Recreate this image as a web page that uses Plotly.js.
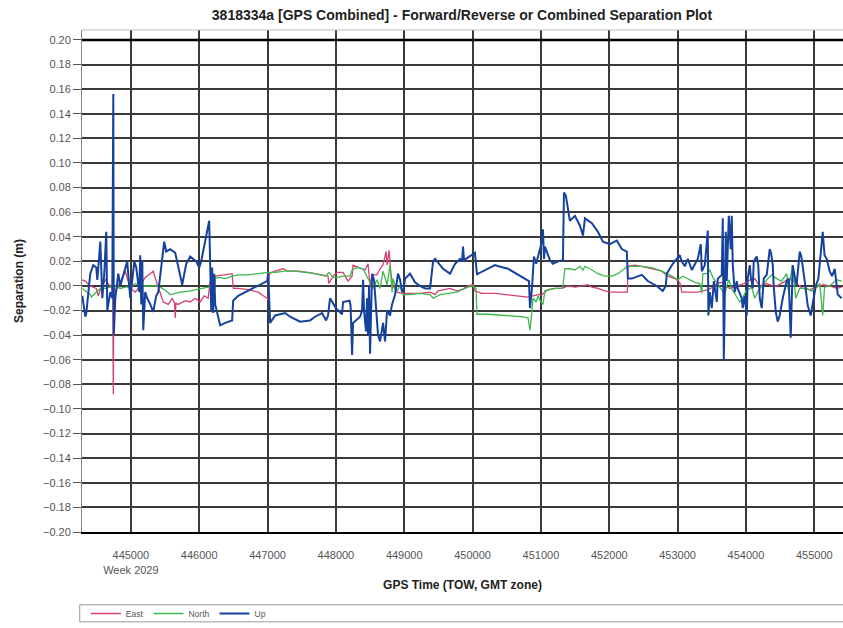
<!DOCTYPE html>
<html>
<head>
<meta charset="utf-8">
<script src="https://cdn.plot.ly/plotly-3.0.1.min.js"></script>
<style>html,body{margin:0;padding:0;background:#fff;overflow:hidden}#chart{width:843px;height:628px}</style>
</head>
<body>
<div id="chart"></div>
<script>
// GPS time of week (s) and separations (m)
const upTime = [444290,444333,444348,444406,444450,444494,444509,444553,444582,444611,444640,444655,444699,444728,444743,444750,444772,444816,444845,444918,444947,444991,445050,445079,445123,445137,445152,445167,445181,445210,445240,445284,445327,445371,445401,445488,445517,445576,445649,445751,445810,445868,445956,446000,446029,446146,446161,446176,446190,446205,446220,446234,446307,446380,446482,446497,446570,446717,446863,446994,447009,447038,447111,447257,447330,447476,447622,447695,447797,447856,447885,447914,448000,448090,448105,448200,448215,448237,448251,448354,448383,448398,448412,448441,448456,448471,448485,448500,448529,448558,448617,448646,448690,448719,448749,448792,448822,448866,448909,448939,448968,448990,449012,449085,449158,449231,449305,449378,449422,449451,449568,449670,449743,449816,449846,449860,449875,449933,450035,450065,450080,450328,450380,450518,450665,450796,450825,450840,450869,450898,450930,450986,451015,451030,451045,451059,451132,451176,451249,451322,451337,451366,451395,451424,451498,451571,451615,451644,451746,451834,451907,452009,452111,452184,452257,452272,452330,452476,452564,452695,452783,452827,452842,452929,453032,453060,453105,453149,453208,453252,453295,453339,453354,453398,453442,453450,453471,453500,453530,453573,453588,453646,453661,453676,453705,453719,453749,453778,453792,453807,453836,453866,453880,453939,453953,453980,454012,454026,454056,454070,454099,454114,454158,454180,454202,454231,454260,454304,454348,454370,454392,454406,454436,454465,454494,454538,454570,454596,454625,454655,454684,454710,454740,454787,454810,454860,454904,454948,454990,455021,455060,455094,455123,455150,455182,455225,455260,455299,455343,455401];
const upValues = [-0.008,-0.025,-0.022,0.010,0.017,0.015,0.005,0.036,-0.010,0.010,0.044,-0.020,-0.005,-0.010,0.156,-0.040,-0.010,0.010,0.000,0.015,0.020,-0.010,0.020,0.015,-0.005,0.025,-0.015,0.020,-0.036,-0.005,-0.010,-0.015,-0.021,-0.008,-0.005,0.036,0.028,0.030,0.027,0.001,0.018,0.024,0.020,0.015,0.020,0.053,0.000,-0.020,0.015,-0.022,0.010,-0.015,-0.032,-0.030,-0.028,-0.012,-0.008,-0.004,0.000,0.004,0.010,-0.030,-0.024,-0.022,-0.025,-0.029,-0.028,-0.025,-0.022,-0.028,-0.024,-0.010,-0.018,-0.023,-0.013,-0.012,-0.016,-0.056,-0.030,-0.025,-0.020,0.005,-0.020,-0.037,-0.010,-0.040,0.000,-0.055,0.010,0.005,-0.040,-0.045,-0.030,-0.045,-0.020,-0.024,-0.015,-0.007,0.010,0.005,-0.005,-0.003,0.006,0.010,0.003,0.000,-0.002,-0.002,0.020,0.022,0.014,0.010,0.018,0.022,0.020,0.032,0.021,0.023,0.027,0.009,0.010,0.017,0.016,0.014,0.009,0.005,0.004,-0.018,-0.002,0.024,0.018,0.030,0.036,0.046,0.022,0.032,0.021,0.018,0.020,0.021,0.076,0.073,0.062,0.053,0.057,0.049,0.041,0.055,0.051,0.044,0.036,0.034,0.037,0.030,0.028,0.006,0.006,0.009,0.004,0.000,-0.004,0.000,0.010,0.018,0.025,0.020,0.016,0.022,0.013,0.018,0.022,0.034,0.012,0.017,0.045,-0.024,-0.005,-0.018,0.004,-0.013,0.006,0.009,0.055,-0.060,0.044,0.004,0.057,0.030,0.057,0.017,-0.005,0.004,-0.002,-0.010,-0.018,-0.008,-0.024,0.006,0.017,0.008,-0.002,0.020,0.024,0.017,-0.010,-0.018,0.006,0.009,0.030,0.026,0.017,0.000,-0.021,-0.029,-0.024,-0.010,-0.002,0.004,0.006,-0.042,0.017,0.008,0.000,0.028,0.024,0.004,-0.016,-0.024,-0.010,0.000,0.006,0.030,0.044,0.025,0.022,0.012,0.008,0.014,-0.007,-0.010];

const eastTime = [444290,444333,444406,444494,444523,444553,444626,444699,444735,444743,444750,444772,444845,444918,444991,445064,445137,445210,445284,445327,445371,445430,445474,445547,445605,445640,445649,445660,445693,445795,445868,445941,446014,446073,446131,446161,446205,446234,446351,446424,446482,446497,446570,446717,446863,446936,446994,447009,447024,447111,447228,447301,447447,447593,447797,447885,447895,447929,447958,448017,448105,448178,448237,448251,448354,448427,448471,448500,448530,448602,448646,448690,448734,448749,448778,448807,448836,448895,448968,449085,449231,449378,449451,449495,449568,449670,449772,449846,449933,450006,450035,450138,450328,450518,450723,450811,450884,450957,451015,451103,451205,451307,451395,451498,451600,451688,451746,451834,451936,452038,452126,452228,452265,452272,452374,452476,452622,452768,452856,452959,453032,453061,453149,453295,453369,453442,453515,453571,453650,453700,453763,453850,453939,454056,454129,454202,454300,454392,454450,454550,454640,454720,454830,454930,455036,455130,455225,455328,455401];
const eastValues = [0.005,0.004,0.000,-0.002,-0.008,-0.003,0.005,0.000,-0.003,-0.088,0.000,-0.005,0.004,0.012,-0.002,-0.005,0.000,0.007,0.010,0.012,0.004,-0.005,-0.013,-0.015,-0.010,-0.014,-0.026,-0.014,-0.015,-0.012,-0.013,-0.010,-0.013,-0.008,-0.010,0.004,-0.020,0.008,0.009,0.010,0.010,-0.002,-0.002,-0.003,-0.005,-0.008,-0.010,-0.012,0.010,0.012,0.014,0.012,0.012,0.011,0.009,0.008,0.002,0.005,0.008,0.011,0.011,0.004,0.008,0.017,0.015,0.013,0.018,0.000,0.009,0.009,0.014,0.017,0.028,0.017,0.029,0.009,0.000,-0.005,-0.006,-0.006,-0.006,-0.005,-0.007,-0.004,-0.003,-0.002,-0.004,-0.003,0.000,0.001,-0.004,-0.006,-0.006,-0.007,-0.008,-0.009,-0.008,-0.007,-0.007,-0.003,-0.002,-0.002,0.000,-0.001,0.000,0.001,-0.001,-0.002,-0.004,-0.005,-0.005,-0.005,-0.005,0.016,0.017,0.016,0.014,0.012,0.008,0.006,0.003,-0.005,-0.005,-0.005,-0.004,-0.003,-0.001,0.002,0.003,0.000,-0.002,0.000,0.001,0.005,0.006,0.000,0.002,0.000,0.000,0.003,0.006,0.003,-0.002,-0.003,-0.001,0.001,0.000,-0.002,-0.001];

const northTime = [444290,444333,444406,444420,444494,444553,444626,444699,444772,444845,444918,444991,445064,445137,445210,445284,445371,445430,445517,445576,445649,445722,445868,446014,446131,446161,446205,446234,446278,446380,446482,446570,446717,446863,447009,447111,447257,447403,447549,447695,447841,447900,447958,448017,448105,448207,448237,448310,448398,448456,448544,448602,448646,448690,448749,448792,448822,448836,448895,448939,448983,449085,449231,449378,449422,449524,449626,449772,449846,449933,450006,450050,450065,450226,450475,450723,450811,450840,450869,450884,450930,450957,450990,451030,451059,451132,451205,451307,451322,451351,451424,451498,451571,451615,451644,451746,451834,451936,452038,452126,452228,452272,452374,452476,452622,452768,452915,453003,453076,453149,453252,453325,453354,453369,453427,453471,453515,453617,453690,453720,453750,453790,453860,453909,453953,454000,454085,454129,454180,454304,454377,454450,454520,454596,454620,454684,454728,454787,454889,454960,455036,455080,455123,455150,455225,455328,455401];
const northValues = [-0.002,-0.004,-0.007,-0.009,-0.005,-0.002,-0.002,-0.001,0.000,-0.002,-0.001,-0.001,0.002,0.000,0.000,0.000,0.000,-0.001,-0.004,-0.007,-0.006,-0.005,-0.004,-0.002,-0.001,-0.001,-0.010,0.006,0.007,0.006,0.008,0.009,0.009,0.010,0.011,0.011,0.012,0.012,0.011,0.010,0.008,0.011,0.007,0.007,0.008,0.008,0.013,0.015,0.014,0.008,-0.002,0.005,-0.002,0.012,0.001,0.017,-0.005,0.006,-0.004,0.000,-0.007,-0.007,-0.006,-0.007,-0.010,-0.007,-0.006,-0.005,-0.003,-0.001,0.000,-0.002,-0.023,-0.023,-0.024,-0.025,-0.026,-0.036,-0.020,-0.010,-0.013,-0.008,-0.012,-0.015,-0.004,-0.003,-0.002,-0.002,0.000,0.014,0.014,0.013,0.016,0.013,0.016,0.013,0.010,0.008,0.008,0.010,0.014,0.016,0.016,0.016,0.015,0.012,0.008,0.005,0.008,0.006,0.003,0.002,-0.006,0.010,0.010,0.013,0.007,-0.001,-0.007,0.000,0.005,-0.002,-0.008,-0.013,-0.010,-0.004,-0.001,-0.010,-0.004,0.005,0.009,0.006,0.004,0.010,-0.003,0.017,-0.010,-0.002,-0.002,-0.004,-0.001,0.002,-0.024,-0.001,0.000,0.005,0.004];

const xTickVals = [445000,446000,447000,448000,449000,450000,451000,452000,453000,454000,455000];
const xTickText = ['445000<br>Week 2029','446000','447000','448000','449000','450000','451000','452000','453000','454000','455000'];
const yTickVals = [-0.20,-0.18,-0.16,-0.14,-0.12,-0.10,-0.08,-0.06,-0.04,-0.02,0.00,0.02,0.04,0.06,0.08,0.10,0.12,0.14,0.16,0.18,0.20];

const traces = [
  {name:'East', x:eastTime, y:eastValues, type:'scatter', mode:'lines', line:{color:'#d6416f', width:1.3}},
  {name:'North', x:northTime, y:northValues, type:'scatter', mode:'lines', line:{color:'#3db84c', width:1.3}},
  {name:'Up', x:upTime, y:upValues, type:'scatter', mode:'lines', line:{color:'#15429e', width:2}}
];

const layout = {
  width:843, height:628,
  margin:{l:82, r:0, t:30, b:91},
  paper_bgcolor:'#fff', plot_bgcolor:'#fff',
  font:{family:'Liberation Sans, Arial, sans-serif', color:'#444'},
  title:{text:'<b>3818334a [GPS Combined] - Forward/Reverse or Combined Separation Plot</b>', font:{size:14, color:'#222'}, x:0.548, xanchor:'center', y:0.976, yanchor:'middle'},
  showlegend:true,
  legend:{orientation:'h', x:0.005, y:-0.163, xanchor:'left', yanchor:'middle', font:{size:8.5, color:'#555'}, bgcolor:'rgba(0,0,0,0)', itemwidth:30, tracegroupgap:0},
  xaxis:{
    range:[444285,455420], tickmode:'array', tickvals:xTickVals, ticktext:xTickText,
    showgrid:true, gridcolor:'#3a3a3a', gridwidth:2, zeroline:false,
    showline:true, linecolor:'#000', linewidth:2,
    ticks:'', ticklabelstandoff:12, tickfont:{size:11, color:'#555'},
    title:{text:'<b>GPS Time (TOW, GMT zone)</b>', font:{size:12, color:'#222'}, standoff:6}
  },
  yaxis:{
    range:[-0.2, 0.2081], tickmode:'array', tickvals:yTickVals, tickformat:'.2f',
    showgrid:true, gridcolor:'#3a3a3a', gridwidth:2, zeroline:false,
    showline:true, linecolor:'#888', linewidth:1,
    ticks:'outside', ticklen:8, tickcolor:'#555', tickfont:{size:11, color:'#555'},
    title:{text:'<b>Separation (m)</b>', font:{size:12, color:'#222'}, standoff:16}
  },
  shapes:[
    {type:'line', xref:'paper', yref:'y', x0:0, x1:1, y0:0.2, y1:0.2, line:{color:'#000', width:2.5}},
    {type:'line', xref:'paper', yref:'paper', x0:0, x1:1, y0:1, y1:1, line:{color:'#bbb', width:1}},
    {type:'rect', xref:'paper', yref:'paper', x0:-0.003, x1:1.01, y0:-0.145, y1:-0.179, line:{color:'#999', width:1}, fillcolor:'rgba(0,0,0,0)'}
  ]
};

Plotly.newPlot('chart', traces, layout, {staticPlot:true, displayModeBar:false});
</script>
</body>
</html>
